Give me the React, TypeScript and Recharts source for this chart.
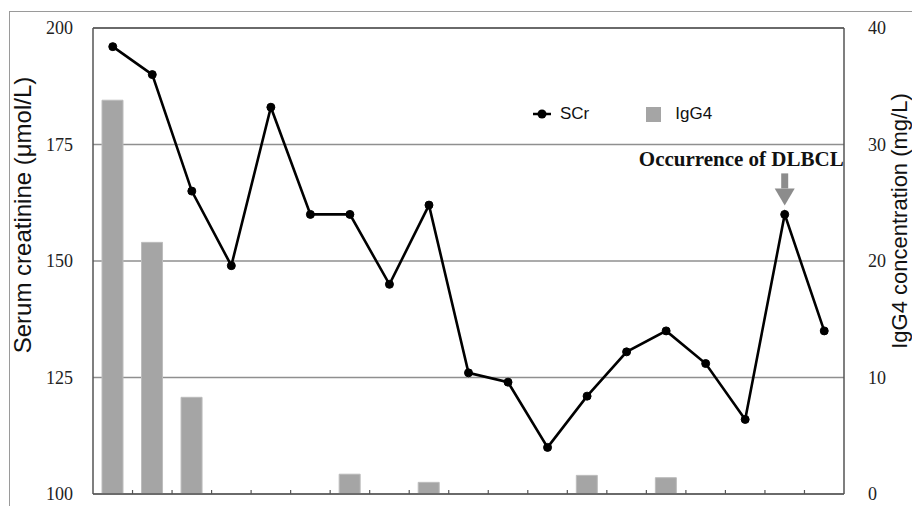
import {
  Bar,
  CartesianGrid,
  ComposedChart,
  Legend,
  Line,
  ReferenceDot,
  ReferenceLine,
  XAxis,
  YAxis,
} from 'recharts'

// visits in chronological order (no labels on the original axis)
const visits = ['1', '2', '3', '4', '5', '6', '7', '8', '9', '10', '11', '12', '13', '14', '15', '16', '17', '18', '19']
// serum creatinine, µmol/L
const scr = [196, 190, 165, 149, 183, 160, 160, 145, 162, 126, 124, 110, 121, 130.5, 135, 128, 116, 160, 135]
// IgG4, mg/L (null = not measured)
const igg4 = [33.8, 21.6, 8.3, null, null, null, 1.7, null, 1.0, null, null, null, 1.6, null, 1.4, null, null, null, null]

const scrTicks = [100, 125, 150, 175, 200]
const igg4Ticks = [0, 10, 20, 30, 40]
const legendOrder = ['SCr', 'IgG4']

const W = 912
const H = 506
const PLOT_LEFT = 93
const PLOT_RIGHT = 844
const PLOT_TOP = 28
const PLOT_BOTTOM = 494

const serif = 'Liberation Serif'
const sans = 'Liberation Sans'
const frame = '#555'

const data = visits.map((v, i) => ({ visit: v, scr: scr[i], igg4: igg4[i] }))

// small inward ticks sitting on the category boundaries
const BoundaryTick = (props: any) => {
  const { x, y, index } = props
  if (index === 0) return <g />
  const step = (PLOT_RIGHT - PLOT_LEFT) / visits.length
  const bx = x - step / 2
  return <line x1={bx} x2={bx} y1={y - 4} y2={y} stroke={frame} strokeWidth={1.2} />
}

const SerifTick = (props: any) => {
  const { x, y, payload, textAnchor } = props
  return (
    <text x={x} y={y} textAnchor={textAnchor} dominantBaseline="central" fontFamily={serif} fontSize={18} fill="#222">
      {payload.value}
    </text>
  )
}

const AxisTitle = (props: any) => {
  const { viewBox, value, cx, shiftY, size } = props
  const mid = viewBox ? viewBox.y + viewBox.height / 2 : (PLOT_TOP + PLOT_BOTTOM) / 2
  const cy = mid + shiftY
  return (
    <text
      x={cx}
      y={cy}
      transform={`rotate(-90 ${cx} ${cy})`}
      textAnchor="middle"
      dominantBaseline="central"
      fontFamily={sans}
      fontSize={size}
      fill="#111"
    >
      {value}
    </text>
  )
}

const DlbclNote = (props: any) => {
  const { cx, cy } = props
  return (
    <g>
      <text x={cx + 59} y={cy - 48} textAnchor="end" fontFamily={serif} fontWeight="bold" fontSize={21} fill="#111">
        Occurrence of DLBCL
      </text>
      <rect x={cx - 3.5} y={cy - 41} width={7} height={15} fill="#8c8c8c" />
      <polygon points={`${cx - 10},${cy - 26} ${cx + 10},${cy - 26} ${cx},${cy - 9}`} fill="#8c8c8c" />
    </g>
  )
}

const renderLegend = (props: any) => {
  const items = [...(props.payload || [])].sort(
    (a: any, b: any) => legendOrder.indexOf(a.value) - legendOrder.indexOf(b.value)
  )
  return (
    <div style={{ display: 'flex', alignItems: 'center', height: 20, fontFamily: sans, fontSize: 17, color: '#111' }}>
      {items.map((it: any) =>
        it.value === 'SCr' ? (
          <span key={it.value} style={{ display: 'flex', alignItems: 'center', marginRight: 57 }}>
            <svg width={22} height={12}>
              <line x1={2} x2={20} y1={6} y2={6} stroke="#000" strokeWidth={2.5} />
              <circle cx={11} cy={6} r={4.5} fill="#000" />
            </svg>
            <span style={{ marginLeft: 7 }}>{it.value}</span>
          </span>
        ) : (
          <span key={it.value} style={{ display: 'flex', alignItems: 'center' }}>
            <span style={{ width: 15, height: 15, background: '#a5a5a5', display: 'inline-block' }} />
            <span style={{ marginLeft: 14 }}>{it.value}</span>
          </span>
        )
      )}
    </div>
  )
}

export default function App() {
  return (
    <div style={{ position: 'fixed', left: 0, top: 0, width: W, height: H, background: '#fff' }}>
      {/* outer frame of the figure */}
      <div style={{ position: 'absolute', left: 9, top: 11, width: W - 9, height: 1, background: '#9a9a9a' }} />
      <div style={{ position: 'absolute', left: 9, top: 11, width: 1, height: H - 11, background: '#9a9a9a' }} />

      <ComposedChart
        width={W}
        height={H}
        data={data}
        margin={{ top: PLOT_TOP, right: 0, bottom: 0, left: 0 }}
        barCategoryGap={0}
      >
        <CartesianGrid vertical={false} yAxisId="left" stroke="#8f8f8f" strokeWidth={1.3} />
        <XAxis
          dataKey="visit"
          height={H - PLOT_BOTTOM}
          interval={0}
          tickSize={0}
          tickMargin={0}
          tickLine={false}
          axisLine={{ stroke: frame, strokeWidth: 1.5 }}
          tick={<BoundaryTick />}
        />
        <YAxis
          yAxisId="left"
          width={PLOT_LEFT}
          domain={[100, 200]}
          ticks={scrTicks}
          axisLine={{ stroke: frame, strokeWidth: 1.5 }}
          tickLine={false}
          tickSize={0}
          tickMargin={20}
          tick={<SerifTick />}
          label={<AxisTitle value="Serum creatinine (μmol/L)" cx={22} shiftY={-46} size={24} />}
        />
        <YAxis
          yAxisId="right"
          orientation="right"
          width={W - PLOT_RIGHT}
          domain={[0, 40]}
          ticks={igg4Ticks}
          axisLine={{ stroke: frame, strokeWidth: 1.5 }}
          tickLine={false}
          tickSize={0}
          tickMargin={24}
          tick={<SerifTick />}
          label={<AxisTitle value="IgG4 concentration (mg/L)" cx={899} shiftY={-40} size={22} />}
        />
        <Legend
          layout="horizontal"
          verticalAlign="middle"
          align="center"
          content={renderLegend}
          wrapperStyle={{ top: 104, left: 531, width: 260, height: 20 }}
        />
        <Bar
          yAxisId="right"
          dataKey="igg4"
          name="IgG4"
          barSize={21}
          fill="#a5a5a5"
          stroke="#bcbcbc"
          strokeWidth={1}
          isAnimationActive={false}
        />
        <Line
          yAxisId="left"
          dataKey="scr"
          name="SCr"
          type="linear"
          stroke="#000"
          strokeWidth={2.6}
          dot={{ r: 4, fill: '#000', stroke: '#000', strokeWidth: 1 }}
          activeDot={false}
          isAnimationActive={false}
        />
        <ReferenceLine yAxisId="left" y={200} stroke={frame} strokeWidth={1.5} />
        <ReferenceDot yAxisId="left" x="18" y={160} r={0} shape={(p: any) => <DlbclNote cx={p.cx} cy={p.cy} />} />
      </ComposedChart>
    </div>
  )
}
